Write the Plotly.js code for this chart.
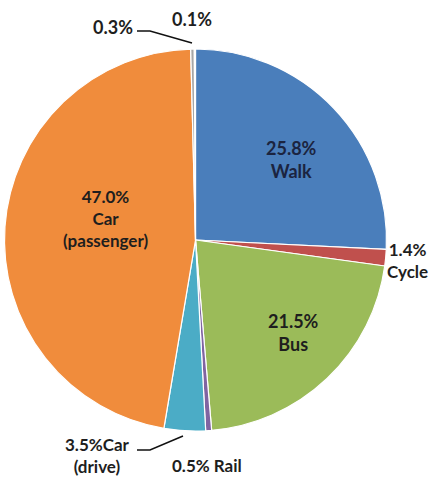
<!DOCTYPE html>
<html>
<head>
<meta charset="utf-8">
<script src="https://cdn.plot.ly/plotly-3.0.1.min.js"></script>
<style>html,body{margin:0;padding:0;background:#fff;}#chart{width:430px;height:485px;}</style>
</head>
<body>
<div id="chart"></div>
<script>
// Data
const modes = ["Walk", "Cycle", "Bus", "Rail", "Car (drive)", "Car (passenger)", "Other", "Not stated"];
const shares = [25.8, 1.4, 21.5, 0.5, 3.5, 47.0, 0.3, 0.1];
const labelNames = ["Walk", "Cycle", "Bus", "Rail", "Car<br>(drive)", "Car<br>(passenger)", "", ""];
const colors = ["#4A7EBB", "#C0504D", "#9BBB59", "#8064A2", "#4BACC6", "#F08C3C", "#A6A6A6", "#C8C8C8"];

const W = 430, H = 485;
const px = x => x / W;
const py = y => 1 - y / H;
const cx = 195.5, cy = 240, r = 191;

const trace = {
  type: "pie",
  labels: modes,
  values: shares,
  sort: false,
  direction: "clockwise",
  rotation: 0,
  textinfo: "none",
  hoverinfo: "label+percent",
  marker: { colors: colors, line: { color: "#ffffff", width: 1.2 } },
  domain: { x: [px(cx - r), px(cx + r)], y: [py(cy + r), py(cy - r)] },
  showlegend: false
};

const fmt = v => v.toFixed(1) + "%";
const base = { showarrow: false, xref: "paper", yref: "paper", xanchor: "center", yanchor: "middle",
  font: { family: "Lato, 'Open Sans', sans-serif", size: 17, color: "#1e1e1e", weight: "bold" } };
// label anchor positions (pixels) and font size for each slice
const labelPos = [
  [291, 160, 18], [407, 260, 17], [293, 332, 18], [207, 465, 17],
  [97, 455, 17], [105, 219, 17], [113, 27, 18], [192, 19, 18]
];
const annotations = shares.map((v, i) => {
  let t;
  if (i === 3) t = fmt(v) + " " + labelNames[i];
  else if (i === 4) t = fmt(v) + labelNames[i];
  else if (labelNames[i]) t = fmt(v) + "<br>" + labelNames[i];
  else t = fmt(v);
  const [x, y, s] = labelPos[i];
  return Object.assign({}, base, { x: px(x), y: py(y), text: t,
    font: Object.assign({}, base.font, { size: s, color: (i === 0) ? "#1b2440" : "#1e1e1e" }) });
});

const toPath = pts => pts.map((p, k) => (k ? "L" : "M") + px(p[0]) + "," + py(p[1])).join(" ");
const shapes = [
  { type: "path", xref: "paper", yref: "paper", path: toPath([[137, 31], [150, 31], [192, 43]]), line: { color: "#111", width: 1.5 } },
  { type: "path", xref: "paper", yref: "paper", path: toPath([[137, 450], [150, 450], [183, 436]]), line: { color: "#111", width: 1.5 } }
];

Plotly.newPlot("chart", [trace], {
  width: W, height: H,
  margin: { l: 0, r: 0, t: 0, b: 0 },
  paper_bgcolor: "#ffffff",
  annotations: annotations,
  shapes: shapes
}, { displayModeBar: false, staticPlot: true });
</script>
</body>
</html>
